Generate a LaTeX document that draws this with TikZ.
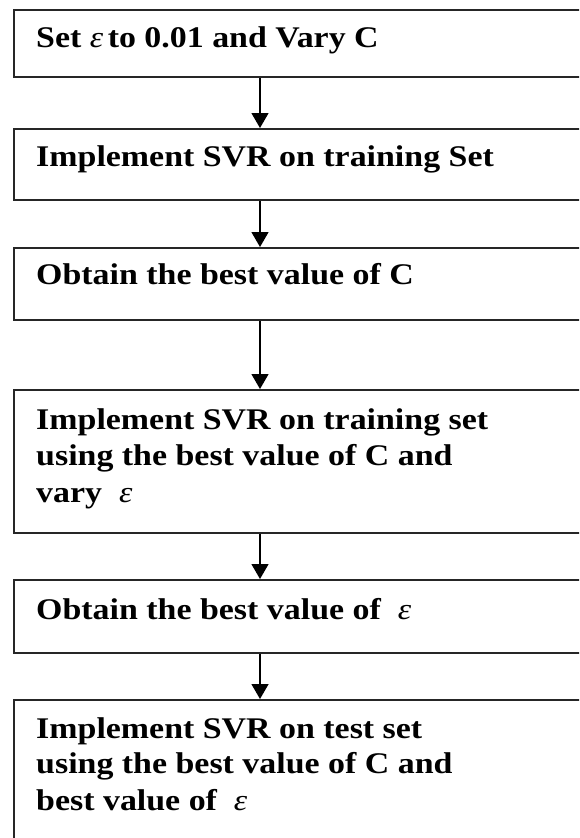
\documentclass[tikz,border=0pt]{standalone}
\usepackage{fontspec}
\setmainfont{Liberation Serif}
\usetikzlibrary{arrows.meta}
\newcommand{\eps}{{\mdseries\itshape ε}}
\begin{document}
\begin{tikzpicture}[x=1pt,y=-1pt,
  stepbox/.style={draw=black!85, line width=1.8pt, fill=white, inner sep=0pt,
    anchor=north west, minimum width=620pt},
  linetext/.style={anchor=base west, inner sep=0pt, xscale=1.13, transform shape,
    font=\fontsize{30}{36}\selectfont\bfseries},
  flow/.style={draw=black, line width=1.4pt, -{Triangle[length=15pt,width=17pt]}}]
\useasboundingbox (0,0) rectangle (579,838);
\fill[white] (0,0) rectangle (579,838);
\clip (0,0) rectangle (579,838);
\coordinate (ax) at (260,0);
\node[stepbox, minimum height=67pt]  (b1) at (13,9) {};
\node[stepbox, minimum height=71pt]  (b2) at (13,128) {};
\node[stepbox, minimum height=72pt]  (b3) at (13,247) {};
\node[stepbox, minimum height=143pt] (b4) at (13,389) {};
\node[stepbox, minimum height=73pt]  (b5) at (13,579) {};
\node[stepbox, minimum height=170pt] (b6) at (13,699) {};
\node[linetext] (t1)  at (36,47)  {Set \eps\kern4pt to 0.01 and Vary C};
\node[linetext] (t2)  at (36,166) {Implement SVR on training Set};
\node[linetext] (t3)  at (36,284) {Obtain the best value of C};
\node[linetext] (t4a) at (36,429) {Implement SVR on training set};
\node[linetext] (t4b) at (36,465) {using the best value of C and};
\node[linetext] (t4c) at (36,502) {vary~~\eps};
\node[linetext] (t5)  at (36,619) {Obtain the best value of~~\eps};
\node[linetext] (t6a) at (36,738) {Implement SVR on test set};
\node[linetext] (t6b) at (36,773) {using the best value of C and};
\node[linetext] (t6c) at (36,810) {best value of~~\eps};
\draw[flow] (b1.south -| ax) -- (b2.north -| ax);
\draw[flow] (b2.south -| ax) -- (b3.north -| ax);
\draw[flow] (b3.south -| ax) -- (b4.north -| ax);
\draw[flow] (b4.south -| ax) -- (b5.north -| ax);
\draw[flow] (b5.south -| ax) -- (b6.north -| ax);
\end{tikzpicture}
\end{document}
